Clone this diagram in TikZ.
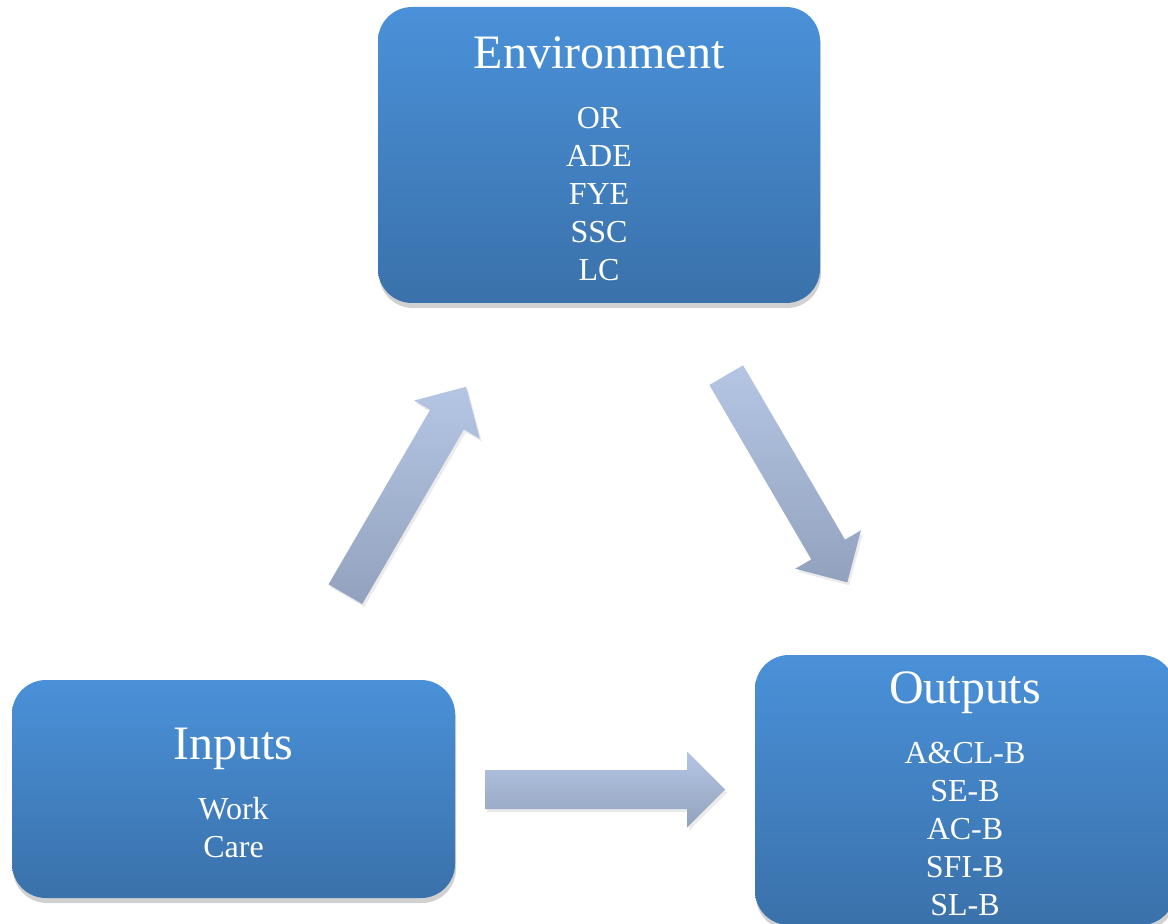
\documentclass[tikz,border=0pt]{standalone}
\usepackage{fontspec}
\setmainfont{Liberation Serif}
\usetikzlibrary{calc}
\usetikzlibrary{shadows}
\definecolor{boxtop}{HTML}{4A91D9}
\definecolor{boxbottom}{HTML}{3A71AA}
\definecolor{arrowlight}{HTML}{B4C6E4}
\definecolor{arrowdark}{HTML}{92A2BE}
\tikzset{
    box/.style={rectangle, rounded corners=17pt, top color=boxtop, bottom color=boxbottom,
        text=white, align=center, font=\fontsize{16}{19}\selectfont,
        drop shadow={shadow xshift=0.5pt, shadow yshift=-2.5pt, fill=black, opacity=0.18}},
    pics/block arrow/.style={
        code={
            \path[top color=arrowlight, bottom color=arrowdark,
                drop shadow={shadow xshift=1pt, shadow yshift=-1.5pt, fill=black, opacity=0.08}]
                (-120,-19.5) -- (82,-19.5) -- (82,-38) -- (120,0) -- (82,38) -- (82,19.5) -- (-120,19.5) -- cycle;
        }},
}
\newcommand\boxtitle[1]{{\fontsize{24}{28}\selectfont\rule{0pt}{20pt}#1}\\[11pt]}

\begin{document}
\begin{tikzpicture}[x=0.5pt, y=0.5pt]

    \useasboundingbox[fill=white] (0,0) rectangle (1168,923);

    \node[box, minimum width=221pt, minimum height=148pt] (env) at (599,768)
        {\boxtitle{Environment}OR\\ ADE\\ FYE\\ SSC\\ LC};
    \node[box, minimum width=221.5pt, minimum height=109pt] (inp) at (233.5,134)
        {\boxtitle{Inputs}Work\\ Care};
    \node[box, minimum width=210pt, minimum height=135pt] (outp) at (965,133)
        {\boxtitle{Outputs}A\&CL-B\\ SE-B\\ AC-B\\ SFI-B\\ SL-B};

    \coordinate (aup) at (405.75,432.5);
    \coordinate (adown) at (786.75,444.25);
    \coordinate (aright) at (605,133.5);

    \pic[rotate=59.8] at (aup) {block arrow};
    \pic[rotate=-59.7] at (adown) {block arrow};
    \pic at (aright) {block arrow};

\end{tikzpicture}
\end{document}
